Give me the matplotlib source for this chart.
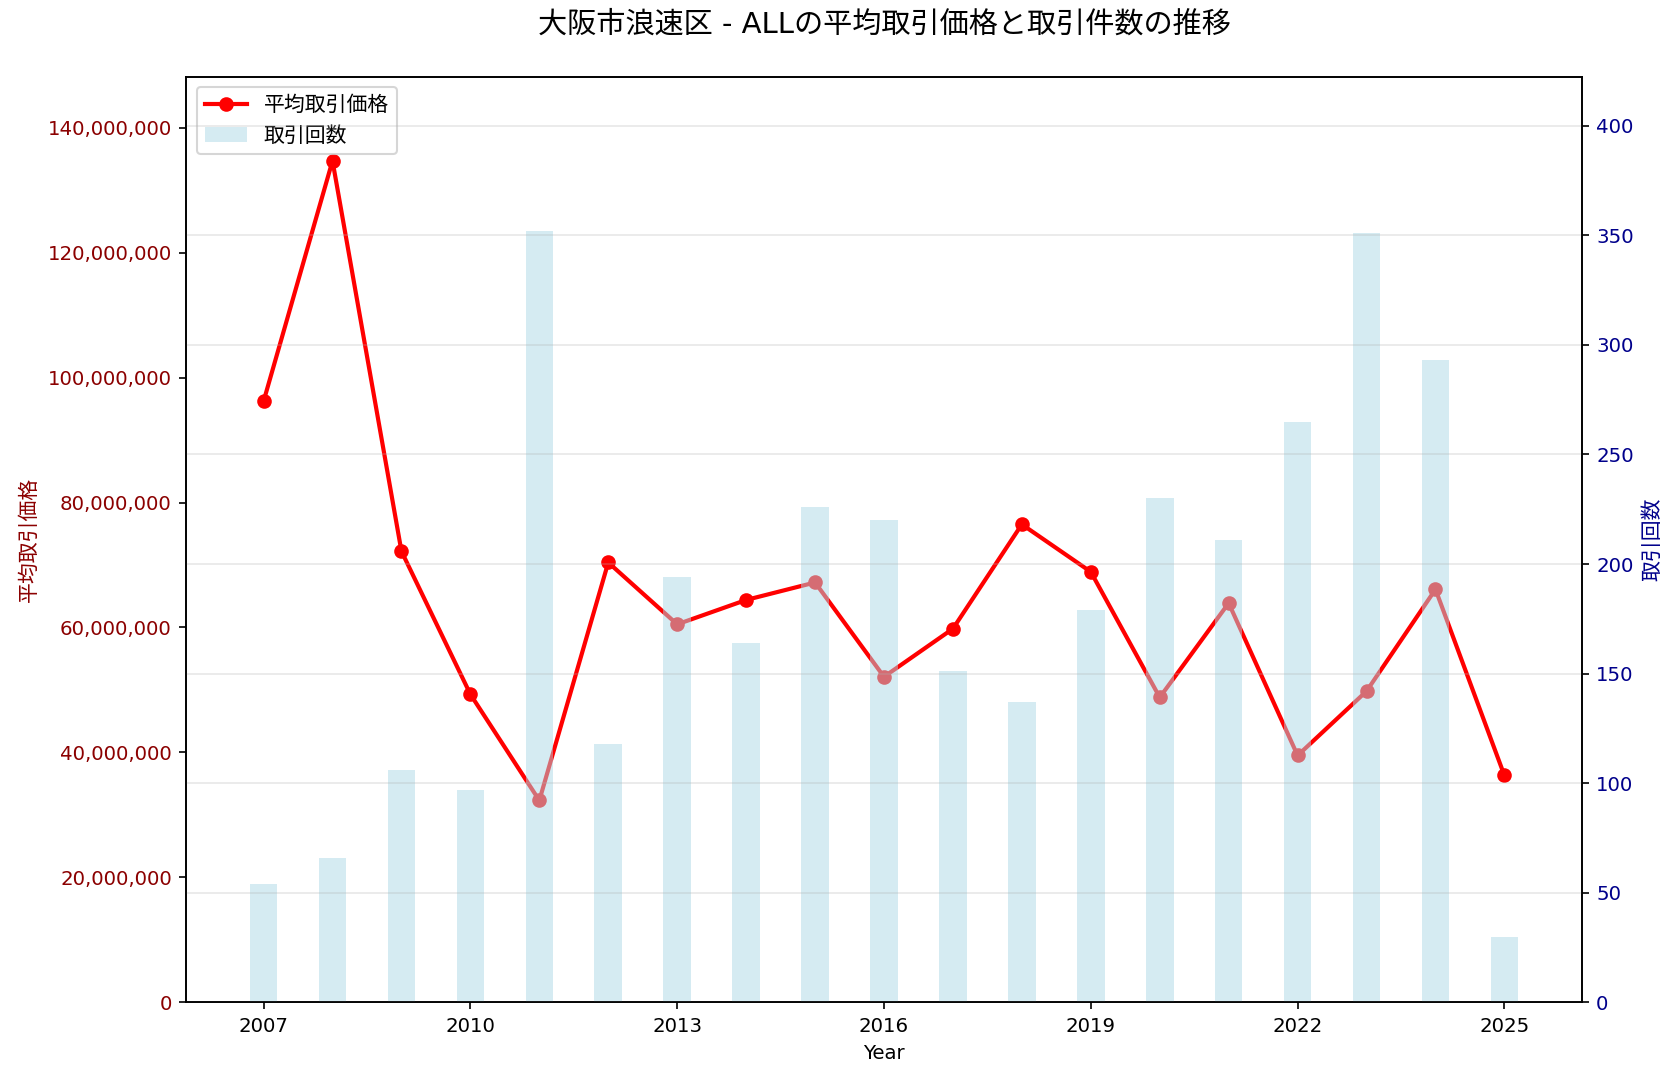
import matplotlib
matplotlib.use("Agg")
import matplotlib.pyplot as plt
from matplotlib.ticker import FuncFormatter

plt.rcParams['font.family'] = ['DejaVu Sans', 'Noto Sans CJK JP']

years = [2007, 2008, 2009, 2010, 2011, 2012, 2013, 2014, 2015, 2016,
         2017, 2018, 2019, 2020, 2021, 2022, 2023, 2024, 2025]
avg_price = [96.2e6, 134.7e6, 72.2e6, 49.3e6, 32.3e6, 70.4e6, 60.5e6, 64.4e6,
             67.2e6, 52.1e6, 59.8e6, 76.5e6, 68.9e6, 48.8e6, 63.9e6, 39.5e6,
             49.8e6, 66.1e6, 36.3e6]
counts = [54, 66, 106, 97, 352, 118, 194, 164, 226, 220,
          151, 137, 179, 230, 211, 265, 351, 293, 30]

title = '大阪市浪速区 - ALLの平均取引価格と取引件数の推移'

fig = plt.figure(figsize=(1679/150, 1080/150), dpi=150)
ax1 = fig.add_axes([0.111, 0.072, 0.831, 0.857])

line, = ax1.plot(years, avg_price, color='red', marker='o', linewidth=2,
                 markersize=6, label='平均取引価格')
ax1.set_xlabel('Year', fontsize=9.5)
ax1.set_ylabel('平均取引価格', color='darkred')
ax1.tick_params(axis='y', labelcolor='darkred', labelsize=9.5)
ax1.tick_params(axis='x', labelsize=9.5)
ax1.set_ylim(0, max(avg_price) * 1.1)
ax1.yaxis.set_major_formatter(FuncFormatter(lambda v, p: f'{int(v):,}'))
ax1.set_xticks(years[::3])

ax2 = ax1.twinx()
bars = ax2.bar(years, counts, width=0.4, color='lightblue', alpha=0.5,
               label='取引回数')
ax2.set_ylabel('取引回数', color='darkblue')
ax2.tick_params(axis='y', labelcolor='darkblue', labelsize=9.5)
ax2.set_ylim(0, max(counts) * 1.2)
ax2.grid(True, axis='y', alpha=0.3)

ax1.legend([line, bars], ['平均取引価格', '取引回数'], loc='upper left')
ax1.set_title(title, fontsize=14, pad=21)

fig.savefig('out.png', dpi=150)
